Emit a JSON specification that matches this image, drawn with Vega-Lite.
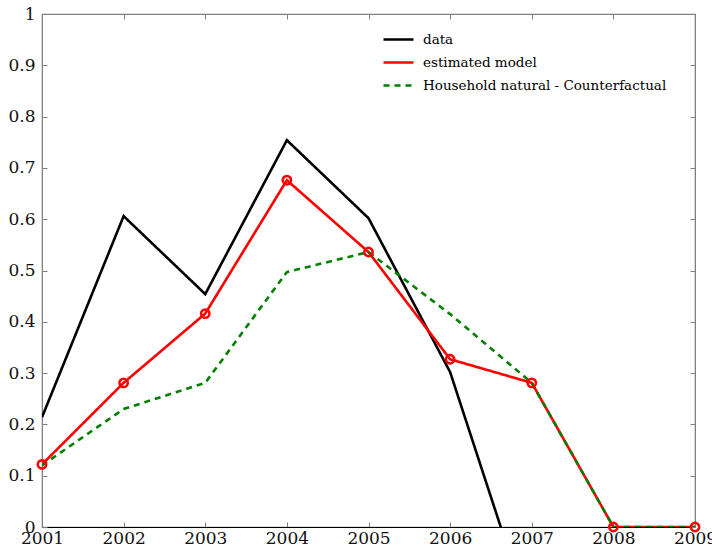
{
  "$schema": "https://vega.github.io/schema/vega-lite/v6.json",
  "width": 653,
  "height": 513,
  "autosize": "none",
  "padding": {"left": 42, "top": 14, "right": 17, "bottom": 23},
  "background": "white",
  "config": {
    "view": {"stroke": "#808080", "strokeWidth": 1.2},
    "font": "DejaVu Serif",
    "axis": {"labelFont": "DejaVu Serif", "labelFontSize": 17, "labelColor": "#111", "grid": false, "tickColor": "#808080", "domainColor": "#808080", "tickSize": -5, "title": null},
    "legend": {"labelFont": "DejaVu Serif"}
  },
  "data": {
    "values": [
      {"year": 2001, "series": "data", "value": 0.214},
      {"year": 2002, "series": "data", "value": 0.606},
      {"year": 2003, "series": "data", "value": 0.454},
      {"year": 2004, "series": "data", "value": 0.754},
      {"year": 2005, "series": "data", "value": 0.602},
      {"year": 2006, "series": "data", "value": 0.302},
      {"year": 2007, "series": "data", "value": -0.185},
      {"year": 2001, "series": "estimated model", "value": 0.122},
      {"year": 2002, "series": "estimated model", "value": 0.281},
      {"year": 2003, "series": "estimated model", "value": 0.416},
      {"year": 2004, "series": "estimated model", "value": 0.676},
      {"year": 2005, "series": "estimated model", "value": 0.536},
      {"year": 2006, "series": "estimated model", "value": 0.327},
      {"year": 2007, "series": "estimated model", "value": 0.281},
      {"year": 2008, "series": "estimated model", "value": 0},
      {"year": 2009, "series": "estimated model", "value": 0},
      {"year": 2001, "series": "Household natural - Counterfactual", "value": 0.12},
      {"year": 2002, "series": "Household natural - Counterfactual", "value": 0.23},
      {"year": 2003, "series": "Household natural - Counterfactual", "value": 0.281},
      {"year": 2004, "series": "Household natural - Counterfactual", "value": 0.497},
      {"year": 2005, "series": "Household natural - Counterfactual", "value": 0.536},
      {"year": 2006, "series": "Household natural - Counterfactual", "value": 0.415},
      {"year": 2007, "series": "Household natural - Counterfactual", "value": 0.281},
      {"year": 2008, "series": "Household natural - Counterfactual", "value": 0},
      {"year": 2009, "series": "Household natural - Counterfactual", "value": 0}
    ]
  },
  "layer": [
    {
      "mark": {"type": "line", "strokeWidth": 2.6, "clip": true},
      "encoding": {
        "x": {"field": "year", "type": "quantitative", "scale": {"domain": [2001, 2009], "nice": false, "zero": false},
          "axis": {"values": [2001, 2002, 2003, 2004, 2005, 2006, 2007, 2008, 2009], "format": "d", "labelFlush": false, "labelOverlap": false, "domainColor": "#000", "labelPadding": 8}},
        "y": {"field": "value", "type": "quantitative", "scale": {"domain": [0, 1], "nice": false},
          "axis": {"values": [0, 0.1, 0.2, 0.3, 0.4, 0.5, 0.6, 0.7, 0.8, 0.9, 1], "format": "~g", "labelFlush": false, "labelOverlap": false, "labelPadding": 12}},
        "color": {"field": "series", "type": "nominal",
          "scale": {"domain": ["data", "estimated model", "Household natural - Counterfactual"], "range": ["#000000", "#ff0000", "#008000"]},
          "legend": {"title": null, "orient": "none", "legendX": 340, "legendY": 9, "symbolType": "stroke", "symbolSize": 900, "symbolStrokeWidth": 2.6, "labelFontSize": 13.5, "labelColor": "#000", "labelLimit": 0, "rowPadding": -14, "labelOffset": 8}},
        "strokeDash": {"field": "series", "type": "nominal",
          "scale": {"domain": ["data", "estimated model", "Household natural - Counterfactual"], "range": [[1, 0], [1, 0], [6, 5]]},
          "legend": {"title": null, "orient": "none", "legendX": 340, "legendY": 9, "symbolType": "stroke", "symbolSize": 900, "symbolStrokeWidth": 2.6, "labelFontSize": 13.5, "labelColor": "#000", "labelLimit": 0, "rowPadding": -14, "labelOffset": 8}}
      }
    },
    {
      "transform": [{"filter": "datum.series === 'estimated model'"}],
      "mark": {"type": "point", "shape": "circle", "filled": false, "stroke": "#ff0000", "strokeWidth": 2.5, "size": 70, "opacity": 1, "clip": false},
      "encoding": {
        "x": {"field": "year", "type": "quantitative", "axis": null},
        "y": {"field": "value", "type": "quantitative", "axis": null}
      }
    },
    {
      "mark": {"type": "point", "opacity": 0},
      "encoding": {
        "x": {"field": "year", "type": "quantitative",
          "axis": {"orient": "top", "values": [2001, 2002, 2003, 2004, 2005, 2006, 2007, 2008, 2009], "labels": false, "domainColor": "#808080"}},
        "y": {"field": "value", "type": "quantitative",
          "axis": {"orient": "right", "values": [0, 0.1, 0.2, 0.3, 0.4, 0.5, 0.6, 0.7, 0.8, 0.9, 1], "labels": false}}
      }
    }
  ],
  "resolve": {"axis": {"x": "independent", "y": "independent"}}
}
